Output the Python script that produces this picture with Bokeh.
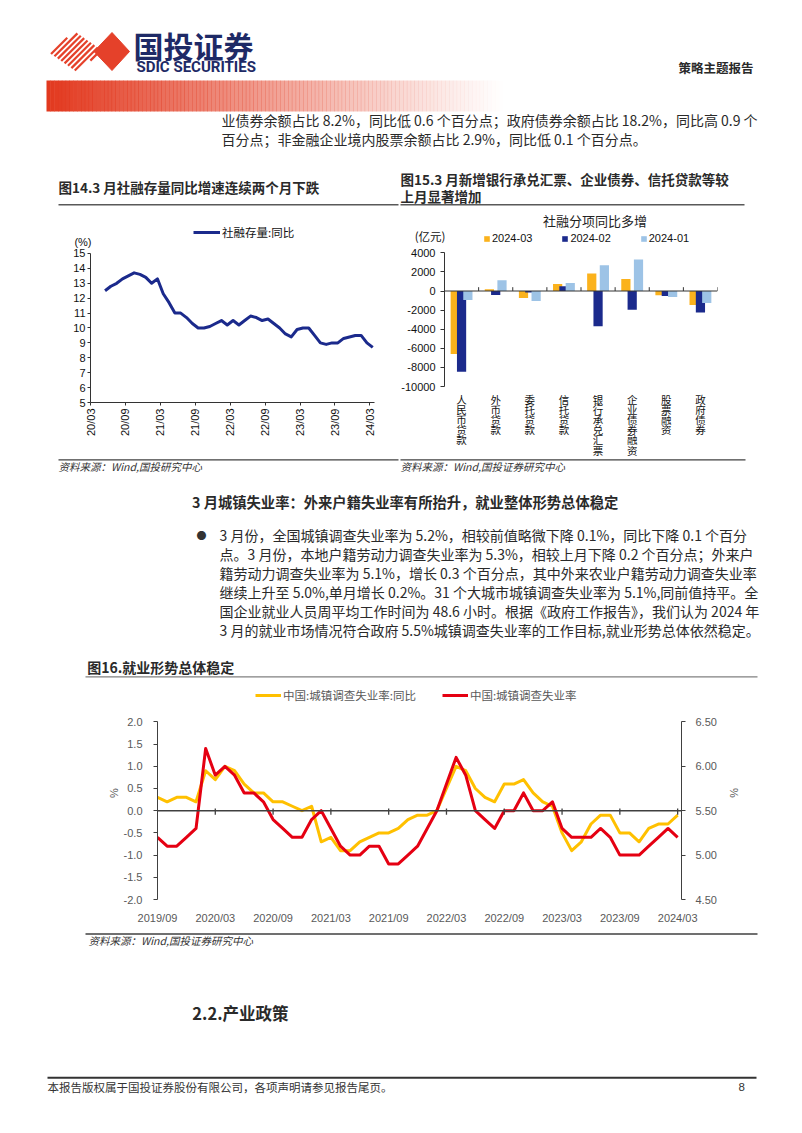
import math
import numpy as np
from bokeh.plotting import figure
from bokeh.models import (Range1d, Legend, LegendItem, Span, Label, FixedTicker,
                          FactorRange, LinearAxis, ColumnDataSource, PrintfTickFormatter)
from bokeh.layouts import column, row
from bokeh.embed import file_html
from bokeh.resources import INLINE
from bokeh.core.properties import value
from bokeh.transform import dodge

CJK = "Noto Sans CJK SC"
LAT = "Liberation Sans"

# ---------------- Data: Fig 14 (社融存量:同比, %) ----------------
tsf_tick_labels = ["20/03", "20/09", "21/03", "21/09", "22/03", "22/09", "23/03", "23/09", "24/03"]
tsf_start_offset = 2  # first observation is 20/05 (months after 20/03)
tsf_yoy = [12.5, 12.8, 13.0, 13.3, 13.5, 13.7, 13.6, 13.4, 13.0, 13.3, 12.3, 11.7,
           11.0, 11.0, 10.7, 10.3, 10.0, 10.0, 10.1, 10.3, 10.5, 10.2, 10.5, 10.2,
           10.5, 10.8, 10.7, 10.5, 10.6, 10.3, 10.0, 9.6, 9.4, 9.9, 10.0, 10.0,
           9.5, 9.0, 8.9, 9.0, 9.0, 9.3, 9.4, 9.5, 9.5, 9.0, 8.7]

# ---------------- Data: Fig 15 (社融分项同比多增, 亿元) ----------------
tsf_items = ["人民币贷款", "外币贷款", "委托贷款", "信托贷款", "银行承兑汇票", "企业债券融资", "股票融资", "政府债券"]
inc_2024_03 = [-6600, 180, -730, 730, 1820, 1260, -450, -1470]
inc_2024_02 = [-8450, -420, -170, 490, -3700, -1960, -520, -2240]
inc_2024_01 = [-950, 1120, -1050, 840, 2700, 3290, -630, -1260]
series_names = ["2024-03", "2024-02", "2024-01"]
inc_ticks = [-10000, -8000, -6000, -4000, -2000, 0, 2000, 4000]

# ---------------- Data: Fig 16 (城镇调查失业率) ----------------
ue_tick_labels = ["2019/09", "2020/03", "2020/09", "2021/03", "2021/09", "2022/03",
                  "2022/09", "2023/03", "2023/09", "2024/03"]
ue_rate = [5.2, 5.1, 5.1, 5.2,
           5.3, 6.2, 5.9, 6.0, 5.9, 5.7, 5.7, 5.6, 5.4, 5.3, 5.2, 5.2,
           5.4, 5.5, 5.3, 5.1, 5.0, 5.0, 5.1, 5.1, 4.9, 4.9, 5.0, 5.1,
           5.3, 5.5, 5.8, 6.1, 5.9, 5.5, 5.4, 5.3, 5.5, 5.5, 5.7, 5.5,
           5.5, 5.6, 5.3, 5.2, 5.2, 5.2, 5.3, 5.2, 5.0, 5.0, 5.0, 5.1,
           5.2, 5.3, 5.2]
ue_yoy = [0.3, 0.2, 0.3, 0.3,
          0.2, 0.9, 0.7, 1.0, 0.9, 0.6, 0.4, 0.4, 0.2, 0.2, 0.1, 0.0,
          0.1, -0.7, -0.6, -0.9, -0.9, -0.7, -0.6, -0.5, -0.5, -0.4, -0.2, -0.1,
          -0.1, 0.0, 0.5, 1.0, 0.9, 0.5, 0.3, 0.2, 0.6, 0.6, 0.7, 0.4,
          0.2, 0.1, -0.5, -0.9, -0.7, -0.3, -0.1, -0.1, -0.5, -0.5, -0.7, -0.4,
          -0.3, -0.3, -0.1]

# ---------------- Texts ----------------
top_lines = ["业债券余额占比 8.2%，同比低 0.6 个百分点；政府债券余额占比 18.2%，同比高 0.9 个",
             "百分点；非金融企业境内股票余额占比 2.9%，同比低 0.1 个百分点。"]
para_lines = ["3 月份，全国城镇调查失业率为 5.2%，相较前值略微下降 0.1%，同比下降 0.1 个百分",
              "点。3 月份，本地户籍劳动力调查失业率为 5.3%，相较上月下降 0.2 个百分点；外来户",
              "籍劳动力调查失业率为 5.1%，增长 0.3 个百分点，其中外来农业户籍劳动力调查失业率",
              "继续上升至 5.0%,单月增长 0.2%。31 个大城市城镇调查失业率为 5.1%,同前值持平。全",
              "国企业就业人员周平均工作时间为 48.6 小时。根据《政府工作报告》，我们认为 2024 年",
              "3 月的就业市场情况符合政府 5.5%城镇调查失业率的工作目标,就业形势总体依然稳定。"]

ORANGE = "#FBB21C"
NAVY = "#1B2A8C"
LBLUE = "#9DC3E6"
YEL = "#FFC000"
RED = "#E50012"
LOGO_RED = "#E5412A"
TXT = "#2A2A2A"
PAGE_W = 802


def page_fig(y0, y1):
    p = figure(width=PAGE_W, height=int(round(y1 - y0)), x_range=Range1d(0, PAGE_W),
               y_range=Range1d(y1, y0), x_axis_type=None, y_axis_type=None,
               toolbar_location=None, output_backend="svg", min_border=0,
               outline_line_color=None, frame_align=False)
    return p


def txt(p, x, y, s, size, bold=False, italic=False, color=TXT, font=CJK, align="left"):
    style = "bold" if bold else ("italic" if italic else "normal")
    p.text(x=[x], y=[y], text=[s], text_font=value(font), text_font_size=value(f"{size}px"),
           text_font_style=style, text_color=color, text_baseline="middle", text_align=align)


def hline(p, x0, x1, y, w=1.3, color="#404040"):
    p.segment(x0=[x0], y0=[y], x1=[x1], y1=[y], line_width=w, line_color=color)


# ================= Band A: header (page y 0..206) =================
pA = page_fig(0, 206)
for c in np.linspace(104, 150, 9):
    xs = np.linspace(44, 106, 1241)
    ys = c - xs
    m = np.abs(xs - 75) / 28 + np.abs(ys - 51) / 19.5 <= 1
    if m.any():
        xa, xb = xs[m].min(), xs[m].max()
        pA.segment(x0=[xa], y0=[c - xa], x1=[xb], y1=[c - xb], line_width=2.2, line_color=LOGO_RED)
pA.patch(x=[93.5, 111.5, 129, 111.5], y=[51, 32, 51, 70], fill_color=LOGO_RED, line_color=LOGO_RED)
txt(pA, 133, 44.5, "国投证券", 30, bold=True, color="#1E2A66")
txt(pA, 136, 66.8, "SDIC SECURITIES", 15, bold=True, color="#1E2A66", font="Roboto")
txt(pA, 678, 66.7, "策略主题报告", 12.5, bold=True)
n = 120
gx = np.linspace(46, 506, n + 1)
alphas = (1 - np.linspace(0, 1, n)) ** 1.1
pA.quad(left=gx[:-1], right=gx[1:] + 0.5, top=[80] * n, bottom=[111] * n,
        fill_color="#E2391F", fill_alpha=alphas, line_color=None)
txt(pA, 221, 119.5, top_lines[0], 14)
txt(pA, 221, 138.5, top_lines[1], 14)
txt(pA, 58, 186.7, "图14.3 月社融存量同比增速连续两个月下跌", 13.5, bold=True)
txt(pA, 400, 178.3, "图15.3 月新增银行承兑汇票、企业债券、信托贷款等较", 13.5, bold=True)
txt(pA, 400, 195.5, "上月显著增加", 13.5, bold=True)
hline(pA, 58, 398, 204.3, 1.5, "#595959")
hline(pA, 400, 744, 204.3, 1.5, "#595959")

# ================= Fig 14 (page x 0..398, y 206..458) =================
# frame: x 90..374, y 222..402 ; value 15 at y 253.3
p1 = figure(width=398, height=252, x_range=Range1d(0, 48.8), y_range=Range1d(5, 17.08),
            toolbar_location=None, output_backend="svg", frame_align=False,
            min_border_left=90, min_border_right=24, min_border_top=16, min_border_bottom=56)
x1 = [tsf_start_offset + i + 0.5 for i in range(len(tsf_yoy))]
r1 = p1.line(x1, tsf_yoy, line_width=3, line_color=NAVY, line_join="round")
p1.grid.visible = False
p1.outline_line_color = None
p1.xaxis.ticker = FixedTicker(ticks=[6 * i for i in range(len(tsf_tick_labels))])
p1.xaxis.major_label_overrides = {6 * i: s for i, s in enumerate(tsf_tick_labels)}
p1.xaxis.major_label_orientation = math.pi / 2
p1.yaxis.ticker = FixedTicker(ticks=list(range(5, 16)))
p1.yaxis.bounds = (5, 15)
for ax in (p1.xaxis[0], p1.yaxis[0]):
    ax.axis_line_color = "#333333"
    ax.major_tick_line_color = "#333333"
    ax.major_tick_out = 3
    ax.major_tick_in = 0
    ax.minor_tick_line_color = None
    ax.major_label_text_font = LAT
    ax.major_label_text_font_size = "11px"
    ax.major_label_text_color = "#111111"
    ax.major_label_standoff = 3
p1.yaxis.major_label_standoff = 2
ax_pct = LinearAxis(ticker=FixedTicker(ticks=[15.8]), major_label_overrides={15.8: "(%)"},
                    axis_line_color=None, major_tick_line_color=None, minor_tick_line_color=None,
                    major_tick_out=0, major_tick_in=0, major_label_standoff=-21,
                    major_label_text_font=LAT, major_label_text_font_size="11px",
                    major_label_text_color="#111111")
p1.add_layout(ax_pct, "left")
leg1 = Legend(items=[LegendItem(label="社融存量:同比", renderers=[r1])], location=(103, 162),
              orientation="horizontal", padding=0, margin=0, border_line_color=None,
              background_fill_alpha=0, glyph_width=27, glyph_height=14, label_height=14,
              label_standoff=2, label_text_font=CJK, label_text_font_size="11.5px",
              label_text_color="#111111")
p1.add_layout(leg1)

# ================= Fig 15 (page x 398..802, y 206..458) =================
# frame: x 443..717, y 212..458 ; 4000 at y 252.3, -10000 at y 386
UPP = 14000 / 133.7
p2 = figure(width=404, height=252, x_range=FactorRange(*tsf_items),
            y_range=Range1d(-10000 - 72 * UPP, 4000 + 40.3 * UPP),
            toolbar_location=None, output_backend="svg", frame_align=False,
            min_border_left=45, min_border_right=85, min_border_top=6, min_border_bottom=0)
src = ColumnDataSource(dict(cat=tsf_items, a=inc_2024_03, b=inc_2024_02, c=inc_2024_01))
rA = p2.vbar(x=dodge("cat", -0.185, range=p2.x_range), top="a", width=0.27, source=src,
             fill_color=ORANGE, line_color=None)
rB = p2.vbar(x=dodge("cat", 0.0, range=p2.x_range), top="b", width=0.27, source=src,
             fill_color=NAVY, line_color=None)
rC = p2.vbar(x=dodge("cat", 0.185, range=p2.x_range), top="c", width=0.27, source=src,
             fill_color=LBLUE, line_color=None)
p2.add_layout(Span(location=0, dimension="width", line_color="#333333", line_width=1))
p2.segment(x0=dodge("cat", 0.5, range=p2.x_range), x1=dodge("cat", 0.5, range=p2.x_range),
           y0=0, y1=400, source=src, line_color="#333333", line_width=1)
p2.grid.visible = False
p2.outline_line_color = None
p2.xaxis.visible = False
p2.yaxis.ticker = FixedTicker(ticks=inc_ticks)
p2.yaxis.bounds = (-10000, 4000)
p2.yaxis.formatter = PrintfTickFormatter(format="%d")
p2.yaxis.axis_line_color = "#333333"
p2.yaxis.major_tick_line_color = "#333333"
p2.yaxis.major_tick_out = 4
p2.yaxis.major_tick_in = 0
p2.yaxis.minor_tick_line_color = None
p2.yaxis.major_label_text_font = LAT
p2.yaxis.major_label_text_font_size = "11px"
p2.yaxis.major_label_text_color = "#111111"
p2.yaxis.major_label_standoff = 5
ax_unit = LinearAxis(ticker=FixedTicker(ticks=[5800]), major_label_overrides={5800: "(亿元)"},
                     axis_line_color=None, major_tick_line_color=None, minor_tick_line_color=None,
                     major_tick_out=0, major_tick_in=0, major_label_standoff=-47,
                     major_label_text_font=CJK, major_label_text_font_size="11.5px",
                     major_label_text_color="#111111")
p2.add_layout(ax_unit, "left")
# vertical category labels (one character per line)
lab_x, lab_y, lab_t = [], [], []
for c in tsf_items:
    for j, ch in enumerate(c):
        lab_x.append(c)
        lab_y.append(-10000 - (12.5 + 10.2 * j) * UPP)
        lab_t.append(ch)
p2.text(x=lab_x, y=lab_y, text=lab_t, text_font=value(CJK), text_font_size=value("10.5px"),
        text_color="#111111", text_align="center", text_baseline="middle")
p2.add_layout(Label(x=4.41, y=4000 + (252.3 - 220) * UPP, text="社融分项同比多增", text_font=CJK,
                    text_font_size="13px", text_align="center", text_baseline="middle",
                    text_color="#222222"))
leg2 = Legend(items=[LegendItem(label=n_, renderers=[r]) for n_, r in zip(series_names, [rA, rB, rC])],
              location=(39, 214), orientation="horizontal", padding=0, margin=0,
              border_line_color=None, background_fill_alpha=0, glyph_width=7, glyph_height=7,
              label_height=12, label_standoff=2, spacing=29, label_text_font=LAT,
              label_text_font_size="11px", label_text_color="#111111")
p2.add_layout(leg2)

# ================= Band C (page y 458..682) =================
pC = page_fig(458, 682)
hline(pC, 58, 398, 459.3, 1.3, "#404040")
hline(pC, 400, 745, 459.3, 1.3, "#404040")
txt(pC, 58, 466, "资料来源：Wind,国投研究中心", 10.5, italic=True, color="#333333")
txt(pC, 400, 466, "资料来源：Wind,国投证券研究中心", 10.5, italic=True, color="#333333")
txt(pC, 191.5, 500.5, "3 月城镇失业率：外来户籍失业率有所抬升，就业整体形势总体稳定", 14.3, bold=True)
txt(pC, 196, 534.5, "●", 10, color="#333333")
for i, s in enumerate(para_lines):
    txt(pC, 219, 534.5 + 19 * i, s, 14)
txt(pC, 86.7, 666.7, "图16.就业形势总体稳定", 14, bold=True)
hline(pC, 85, 757, 676.3, 1.3, "#808080")

# ================= Fig 16 (page y 682..930) =================
# frame: x 157..681, y 686..899 ; left 2.0 at y 721.7, -2.0 at 899
p3 = figure(width=PAGE_W, height=248, x_range=Range1d(0, 54.4), y_range=Range1d(-2, 2.797),
            toolbar_location=None, output_backend="svg", frame_align=False,
            min_border_left=157, min_border_right=121, min_border_top=4, min_border_bottom=31)
p3.extra_y_ranges = {"ur": Range1d(4.5, 6.8985)}
xm = list(range(len(ue_rate)))
ry = p3.line(xm, ue_yoy, line_width=3, line_color=YEL, line_join="round")
rr = p3.line(xm, ue_rate, line_width=3, line_color=RED, line_join="round", y_range_name="ur")
p3.add_layout(Span(location=0, dimension="width", line_color="#404040", line_width=1.5))
tick_x = [6 * i for i in range(1, len(ue_tick_labels))]
p3.segment(x0=tick_x, x1=tick_x, y0=[0.05] * len(tick_x), y1=[-0.09] * len(tick_x),
           line_color="#404040", line_width=1.3)
p3.grid.visible = False
p3.outline_line_color = None
raxis = LinearAxis(y_range_name="ur")
p3.add_layout(raxis, "right")
p3.yaxis[0].ticker = FixedTicker(ticks=[-2, -1.5, -1, -0.5, 0, 0.5, 1, 1.5, 2])
p3.yaxis[0].formatter = PrintfTickFormatter(format="%.1f")
p3.yaxis[0].bounds = (-2, 2)
raxis.ticker = FixedTicker(ticks=[4.5, 5.0, 5.5, 6.0, 6.5])
raxis.formatter = PrintfTickFormatter(format="%.2f")
raxis.bounds = (4.5, 6.5)
for ax, so, lso in ((p3.yaxis[0], 11, 1), (raxis, 10, 8)):
    ax.axis_line_color = "#404040"
    ax.major_tick_line_color = "#404040"
    ax.major_tick_out = 4
    ax.major_tick_in = 0
    ax.minor_tick_line_color = None
    ax.major_label_text_font = LAT
    ax.major_label_text_font_size = "11px"
    ax.major_label_text_color = "#595959"
    ax.major_label_standoff = so
    ax.axis_label = "%"
    ax.axis_label_text_font = LAT
    ax.axis_label_text_font_size = "11px"
    ax.axis_label_text_font_style = "normal"
    ax.axis_label_text_color = "#595959"
    ax.axis_label_standoff = lso
p3.xaxis.ticker = FixedTicker(ticks=[6 * i for i in range(len(ue_tick_labels))])
p3.xaxis.major_label_overrides = {6 * i: s for i, s in enumerate(ue_tick_labels)}
p3.xaxis.axis_line_color = None
p3.xaxis.major_tick_line_color = None
p3.xaxis.minor_tick_line_color = None
p3.xaxis.major_label_text_font = LAT
p3.xaxis.major_label_text_font_size = "11px"
p3.xaxis.major_label_text_color = "#595959"
p3.xaxis.major_label_standoff = 6
leg3 = Legend(items=[LegendItem(label="中国:城镇调查失业率:同比", renderers=[ry]),
                     LegendItem(label="中国:城镇调查失业率", renderers=[rr])],
              location=(98, 196), orientation="horizontal", padding=0, margin=0,
              border_line_color=None, background_fill_alpha=0, glyph_width=26, glyph_height=14,
              label_height=14, label_standoff=2, spacing=26, label_text_font=CJK,
              label_text_font_size="11.5px", label_text_color="#595959")
p3.add_layout(leg3)

# ================= Band E (page y 930..1132) =================
pE = page_fig(930, 1132)
hline(pE, 85, 757, 933.5, 1.3, "#404040")
txt(pE, 88, 940, "资料来源：Wind,国投证券研究中心", 10.5, italic=True, color="#333333")
txt(pE, 191.8, 1012.3, "2.2.产业政策", 16.5, bold=True)
hline(pE, 47, 756, 1077.3, 2, "#333333")
txt(pE, 47, 1086.5, "本报告版权属于国投证券股份有限公司，各项声明请参见报告尾页。", 11.5, color="#333333")
txt(pE, 738, 1086.5, "8", 11.5, color="#333333", font=LAT)

layout = column(pA, row(p1, p2), pC, p3, pE)
open("out.html", "w").write(file_html(layout, INLINE))
